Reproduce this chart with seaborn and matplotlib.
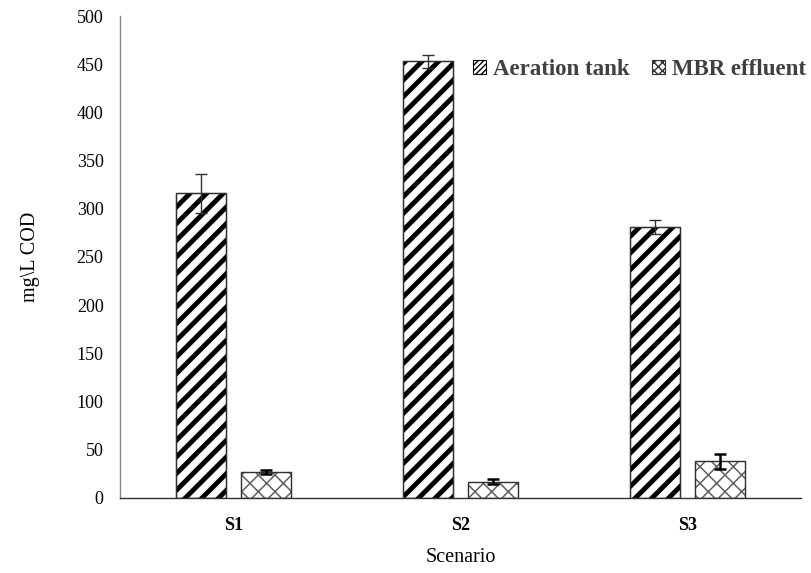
import matplotlib
matplotlib.use("Agg")
import matplotlib.pyplot as plt
import seaborn as sns
import pandas as pd
import numpy as np
from matplotlib.patches import Patch

scenarios = ["S1", "S2", "S3"]
series = ["Aeration tank", "MBR effluent"]
aeration_vals = [316, 453, 281]
aeration_err = [20, 7, 7]
mbr_vals = [27, 17, 38]
mbr_err = [2, 3, 8]
y_ticks = [0, 50, 100, 150, 200, 250, 300, 350, 400, 450, 500]

df = pd.DataFrame({
    "Scenario": scenarios * 2,
    "Series": [series[0]] * 3 + [series[1]] * 3,
    "COD": aeration_vals + mbr_vals,
    "err": aeration_err + mbr_err,
})

sns.set_theme(style="white")
plt.rcParams["font.family"] = ["Liberation Serif", "DejaVu Serif"]

fig = plt.figure(figsize=(8.12, 5.73), dpi=100)
ax = fig.add_axes([0.148, 0.131, 0.839, 0.841])

sns.barplot(data=df, x="Scenario", y="COD", hue="Series", hue_order=series,
            order=scenarios, palette=["white", "white"], width=0.573, gap=0.23,
            errorbar=None, ax=ax, legend=False, edgecolor="#303030", linewidth=0.9)

styles = {series[0]: ("//", "black", 3.5), series[1]: ("xx", "#606060", 1.1)}
for container, name in zip(ax.containers, series):
    hatch, col, lw = styles[name]
    sub = df[df["Series"] == name]
    xs, ys = [], []
    for patch in container.patches:
        patch.set_hatch(hatch)
        patch.set_edgecolor(col)
        if hasattr(patch, "set_hatch_linewidth"):
            patch.set_hatch_linewidth(lw)
        xs.append(patch.get_x() + patch.get_width() / 2)
        ys.append(patch.get_height())
        ax.add_patch(plt.Rectangle((patch.get_x(), 0), patch.get_width(), patch.get_height(),
                                   fill=False, edgecolor="#303030", linewidth=0.9, zorder=3))
    if name == series[0]:
        ax.errorbar(xs, ys, yerr=sub["err"].values, fmt="none", ecolor="#303030",
                    elinewidth=1.0, capsize=4.5, capthick=1.0, zorder=4)
    else:
        ax.errorbar(xs, ys, yerr=sub["err"].values, fmt="none", ecolor="black",
                    elinewidth=1.8, capsize=4.5, capthick=1.8, zorder=4)

ax.set_ylim(0, 500)
ax.set_xlim(-0.5, 2.5)
ax.set_yticks(y_ticks)
ax.set_yticklabels([str(t) for t in y_ticks], fontsize=13, color="black")
ax.tick_params(axis="x", length=0, pad=14)
ax.tick_params(axis="y", length=0, pad=12)
for lbl in ax.get_xticklabels():
    lbl.set_fontweight("bold")
    lbl.set_fontsize(13)
    lbl.set_color("black")
ax.set_xlabel("Scenario", fontsize=14.5, labelpad=10, color="black")
ax.set_ylabel("mg\\L COD", fontsize=14.5, labelpad=26, color="black")

sns.despine(ax=ax)
ax.spines["left"].set_color("#888888")
ax.spines["bottom"].set_color("#303030")
ax.spines["left"].set_linewidth(1.0)
ax.spines["bottom"].set_linewidth(1.0)

handles = [Patch(facecolor="white", edgecolor="black", hatch="//////", linewidth=0.8),
           Patch(facecolor="white", edgecolor="#303030", hatch="xxxx", linewidth=0.8)]
leg = ax.legend(handles, series, loc="upper right", bbox_to_anchor=(1.02, 0.93), ncol=2,
                frameon=False, handlelength=0.55, handleheight=0.55, handletextpad=0.3,
                columnspacing=1.0, borderaxespad=0.0, prop={"weight": "bold", "size": 16.5})
for t in leg.get_texts():
    t.set_color("#404040")

fig.savefig("out.png", dpi=100)
